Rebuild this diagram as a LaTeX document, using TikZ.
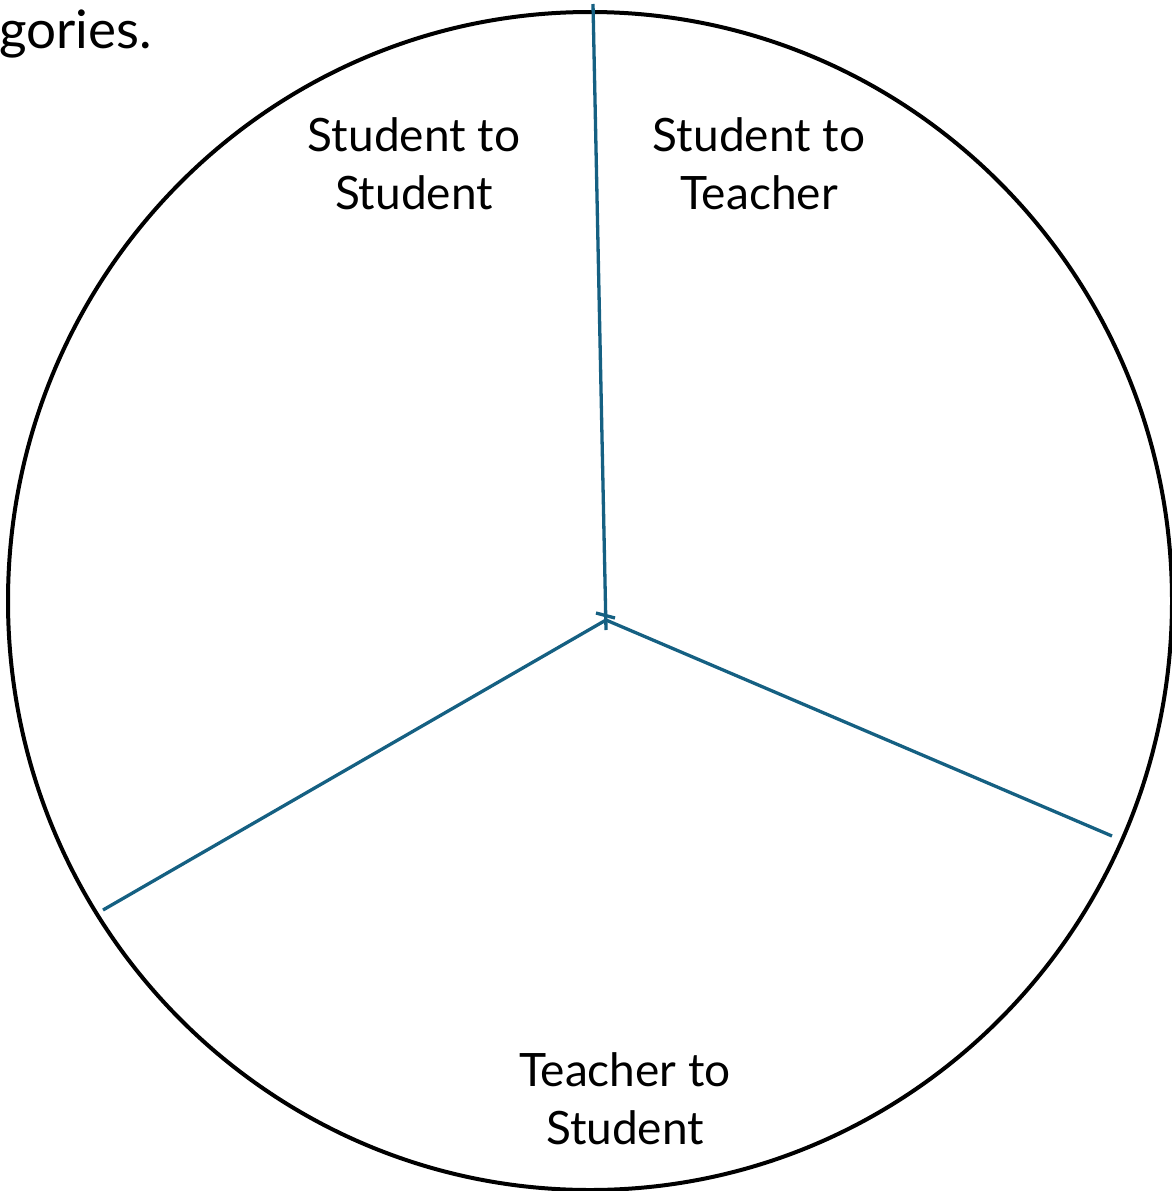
\documentclass[tikz,border=0pt]{standalone}
\usepackage{fontspec}
\setmainfont{Lato}

\begin{document}
\begin{tikzpicture}[x=1pt,y=-1pt, line width=3pt]
    \definecolor{spokecolor}{RGB}{21, 96, 130}
    \tikzset{
        label/.style={align=center, font=\fontsize{46}{58}\selectfont, inner sep=0pt},
        spoke/.style={draw=spokecolor, line width=3.3pt}
    }
    \useasboundingbox (0,0) rectangle (1172,1191);

    % Draw outer circle
    \draw[line width=4pt] (590,601) ellipse [x radius=582, y radius=589];

    % Hub and spoke ends
    \coordinate (hub) at (606,620);
    \coordinate (topend) at (593,4);
    \coordinate (rightend) at (1112,836);
    \coordinate (leftend) at (103,910);
    \coordinate (tail) at (606,630);
    \coordinate (tickA) at (596,613);
    \coordinate (tickB) at (615,618);

    % Draw spokes
    \draw[spoke] (topend) -- (tail);
    \draw[spoke] (hub) -- (rightend);
    \draw[spoke] (hub) -- (leftend);
    \draw[spoke] (tickA) -- (tickB);

    % Labels
    \node[label] (ss) at (414,164) {Student to\\Student};
    \node[label] (st) at (759,164) {Student to\\Teacher};
    \node[label] (ts) at (625,1099) {Teacher to\\Student};
    \node[label, anchor=west, font=\fontsize{53}{64}\selectfont] (cut) at (-2,34) {gories.};
\end{tikzpicture}
\end{document}
